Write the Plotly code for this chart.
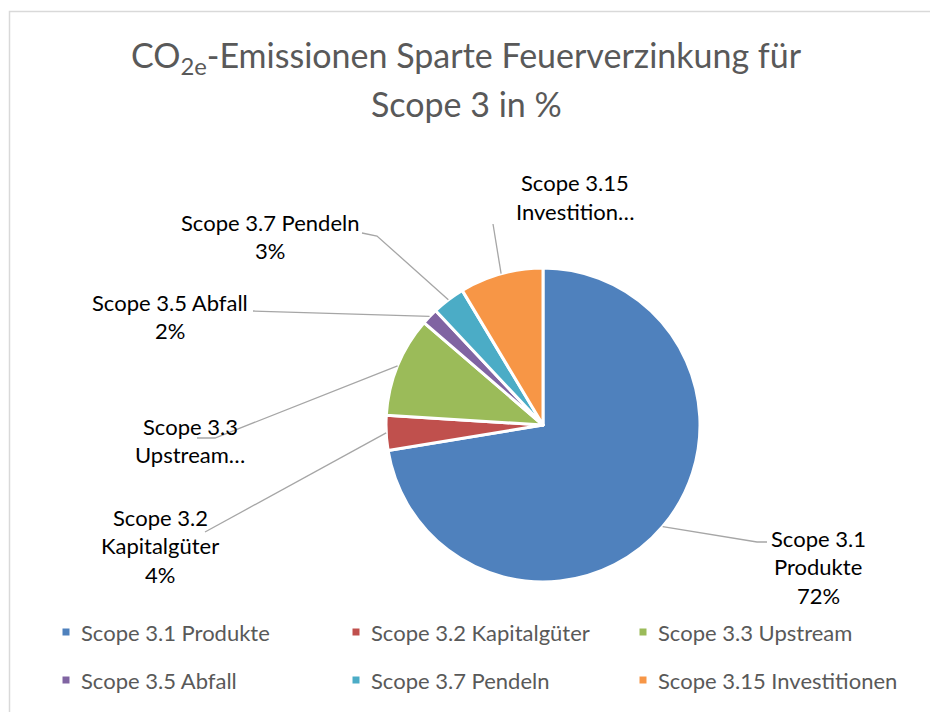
import math
import plotly.graph_objects as go

# data
categories = ['Scope 3.1 Produkte', 'Scope 3.2 Kapitalgüter', 'Scope 3.3 Upstream',
              'Scope 3.5 Abfall', 'Scope 3.7 Pendeln', 'Scope 3.15 Investitionen']
values = [72.4, 3.6, 10.3, 1.7, 3.4, 8.6]
colors = ['#4F81BD', '#C0504D', '#9BBB59', '#8064A2', '#4BACC6', '#F79646']
label_lines = [
    ['Scope 3.1', 'Produkte', '72%'],
    ['Scope 3.2', 'Kapitalgüter', '4%'],
    ['Scope 3.3', 'Upstream…'],
    ['Scope 3.5 Abfall', '2%'],
    ['Scope 3.7 Pendeln', '3%'],
    ['Scope 3.15', 'Investition…'],
]

OFF = 8  # body margin of the html page
W, H = 938 - OFF, 712 - OFF  # figure fits inside the window
CX, CY, R = 543, 425, 157
FONT = 'Lato'
GREY_TXT = '#595959'
LINE_C = '#A6A6A6'


def px(x):
    return (x - OFF) / W


def py(y):
    return 1 - (y - OFF) / H


def pie_edge(i):
    # point on the rim at the middle of slice i (clockwise from 12 o'clock)
    total = sum(values)
    mid = (sum(values[:i]) + values[i] / 2) / total
    a = mid * 2 * math.pi
    return CX + R * math.sin(a), CY - R * math.cos(a)


def txt(text, x, y, size, color, xanchor='center'):
    return dict(text=text, x=px(x), y=py(y), xref='paper', yref='paper',
                xanchor=xanchor, yanchor='middle', showarrow=False,
                font=dict(family=FONT, size=size, color=color))


fig = go.Figure()
fig.add_trace(go.Pie(labels=categories, values=values, sort=False,
                     direction='clockwise', rotation=0,
                     textinfo='none', hoverinfo='label+percent',
                     marker=dict(colors=colors, line=dict(color='white', width=3)),
                     domain=dict(x=[px(CX - R), px(CX + R)], y=[py(CY + R), py(CY - R)]),
                     showlegend=False))

annotations = []
shapes = []

# title
annotations.append(txt('CO<sub>2e</sub>-Emissionen Sparte Feuerverzinkung für', 466, 57, 34, GREY_TXT))
annotations.append(txt('Scope 3 in %', 466, 103, 34, GREY_TXT))

# data labels: (center x, first line y) and leader path (label side points)
label_pos = [(818, 538), (160, 517), (190, 426), (170, 302), (270, 222), (575, 183)]
leader_pts = [
    [(767, 542), (757, 542)],
    [(205, 532)],
    [(197, 438), (215, 438)],
    [(253, 311)],
    [(362, 233), (377, 236)],
    [(493, 224)],
]
for i, lines in enumerate(label_lines):
    lx, ly = label_pos[i]
    for k, t in enumerate(lines):
        annotations.append(txt(t, lx, ly + 28.5 * k, 22, 'black'))
    ex, ey = pie_edge(i)
    pts = leader_pts[i] + [(ex, ey)]
    path = 'M ' + ' L '.join(f'{px(x):.5f} {py(y):.5f}' for x, y in pts)
    shapes.append(dict(type='path', path=path, xref='paper', yref='paper',
                       line=dict(color=LINE_C, width=1.3)))

# legend (two rows of three)
leg_x = [66, 356, 643]
leg_y = [632, 680]
for i, name in enumerate(categories):
    x0 = leg_x[i % 3]
    y0 = leg_y[i // 3]
    shapes.append(dict(type='rect', xref='paper', yref='paper',
                       x0=px(x0 - 3.5), x1=px(x0 + 3.5), y0=py(y0 + 3.5), y1=py(y0 - 3.5),
                       fillcolor=colors[i], line=dict(width=0)))
    annotations.append(txt(name, x0 + 13, y0, 22, GREY_TXT, xanchor='left'))

# chart frame (only top and left edges are visible in the crop)
shapes.append(dict(type='path', xref='paper', yref='paper',
                   path=f'M {px(9.5)} {py(720)} L {px(9.5)} {py(11.5)} L {px(945)} {py(11.5)}',
                   line=dict(color='#D9D9D9', width=1.5)))

fig.update_layout(width=W, height=H, margin=dict(l=0, r=0, t=0, b=0),
                  paper_bgcolor='white', plot_bgcolor='white',
                  annotations=annotations, shapes=shapes)

fig.write_html('out.html')
